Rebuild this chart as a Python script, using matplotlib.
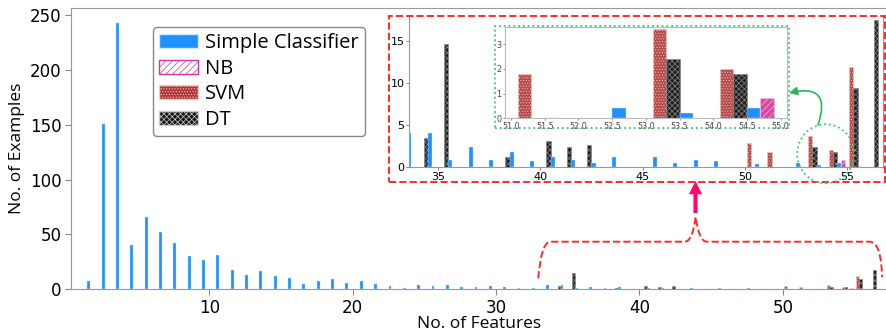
import numpy as np
import matplotlib
matplotlib.use("Agg")
import matplotlib.pyplot as plt
from matplotlib.patches import Rectangle, Ellipse, FancyArrowPatch, PathPatch, Patch
from matplotlib.path import Path

# ---------------- data ----------------
n_features = list(range(1, 57))
simple_vals = [8, 151, 243, 40, 66, 52, 42, 30, 27, 31,
               18, 13, 17, 12.5, 10, 5, 8, 9, 6, 8,
               5, 3, 1.5, 3.6, 3, 3.6, 2.4, 1.8, 3, 2.4,
               1.5, 1.5, 4, 4, 0.8, 2.3, 0.8, 1.7, 0.7, 1.1,
               0.8, 0.4, 1.2, 0, 1.1, 0.4, 0.8, 0.7, 0, 0.3,
               0, 0.4, 0.2, 0.4, 0, 0]
dt_x = [34, 35, 38, 40, 41, 42, 53, 54, 55, 56]
dt_vals = [3.4, 14.6, 1.2, 3.0, 2.4, 2.6, 2.4, 1.8, 9.4, 17.5]
svm_x = [50, 51, 53, 54, 55]
svm_vals = [2.8, 1.8, 3.6, 2.0, 11.8]
nb_x = [54]
nb_vals = [0.8]

series_labels = ["Simple Classifier", "NB", "SVM", "DT"]
main_yticks = [0, 50, 100, 150, 200, 250]
main_xticks = [10, 20, 30, 40, 50]
zoom_xticks = [35, 40, 45, 50, 55]
zoom_yticks = [0, 5, 10, 15]
inner_xticks = [51.0, 51.5, 52.0, 52.5, 53.0, 53.5, 54.0, 54.5, 55.0]
inner_yticks = [0, 1, 2, 3]

# ---------------- style ----------------
plt.rcParams['hatch.linewidth'] = 0.5
BLUE = '#1e90ff'
NB_C = '#d4349c'
SVM_C = '#ad3634'
DT_C = '#141414'
W = 0.2
LAB_FONT = ['Open Sans', 'DejaVu Sans']
SVM_H = '......'
DT_H = 'xxxxxx'
NB_H = '/////'

FW, FH = 887, 333
def fx(px):
    return px / FW
def fy(py):
    return (FH - py) / FH

fig = plt.figure(figsize=(FW / 100, FH / 100), dpi=100)


def draw_bars(ax):
    ax.bar(np.array(svm_x) + 0.2, svm_vals, W, color=SVM_C, edgecolor='#f2c9c9',
           hatch=SVM_H, linewidth=0.4, alpha=0.9)
    ax.bar(np.array(dt_x) + 0.4, dt_vals, W, color=DT_C, edgecolor='#8a8a8a',
           hatch=DT_H, linewidth=0.4, alpha=0.95)
    ax.bar(np.array(n_features) + 0.6, simple_vals, W, color=BLUE,
           edgecolor='#cfe6ff', linewidth=0.3)
    ax.bar(np.array(nb_x) + 0.8, nb_vals, W, color=NB_C, edgecolor='#f6c6e6',
           hatch=NB_H, linewidth=0.4, alpha=0.9)


# ---------------- main axes ----------------
ax = fig.add_axes([fx(71), fy(289.3), fx(887 - 71), (289.3 - 8) / FH])
draw_bars(ax)
ax.set_xlim(0.36, 57.26)
ax.set_ylim(0, 256.5)
ax.set_xticks(main_xticks)
ax.set_yticks(main_yticks)
ax.tick_params(labelsize=12, color='#888888', length=4, pad=3)
for s in ['left', 'bottom', 'top']:
    ax.spines[s].set_color('#999999')
ax.spines['right'].set_visible(False)
ax.set_xlabel('No. of Features', fontsize=12.5, family=LAB_FONT, labelpad=-1)
ax.set_ylabel('No. of Examples', fontsize=12.5, family=LAB_FONT, labelpad=3)

handles = [Patch(facecolor=BLUE, edgecolor='#cfe6ff', label=series_labels[0]),
           Patch(facecolor='white', edgecolor=NB_C, hatch=NB_H, label=series_labels[1]),
           Patch(facecolor=SVM_C, edgecolor='#f2c9c9', hatch=SVM_H, label=series_labels[2]),
           Patch(facecolor=DT_C, edgecolor='#cccccc', hatch=DT_H, label=series_labels[3])]
leg = ax.legend(handles=handles, loc='upper left', bbox_to_anchor=(fx(153), fy(27)),
                bbox_transform=fig.transFigure, borderaxespad=0, framealpha=1,
                prop={'family': LAB_FONT, 'size': 14.5}, labelspacing=0.28,
                handletextpad=0.35, borderpad=0.3, handlelength=1.95,
                edgecolor='#888888')

# brace under the zoomed region (main data coords)
verts = [(32.94, 10), (33.15, 43.4), (33.8, 43.4), (43.15, 43.4),
         (43.7, 43.4), (43.92, 66), (44.15, 43.4), (44.7, 43.4),
         (56.05, 43.4), (56.85, 43.4), (56.92, 11)]
codes = [Path.MOVETO, Path.CURVE3, Path.CURVE3, Path.LINETO,
         Path.CURVE3, Path.CURVE3, Path.CURVE3, Path.CURVE3,
         Path.LINETO, Path.CURVE3, Path.CURVE3]
ax.add_patch(PathPatch(Path(verts, codes), fill=False, edgecolor='#ff2a2a',
                       linestyle='--', linewidth=1.4, clip_on=False))

# ---------------- zoom inset ----------------
axz = fig.add_axes([fx(409.3), fy(166.7), fx(882.7 - 409.3), (166.7 - 17) / FH])
draw_bars(axz)
axz.set_xlim(33.6, 56.73)
axz.set_ylim(0, 17.8)
axz.set_xticks(zoom_xticks)
axz.set_yticks(zoom_yticks)
axz.tick_params(labelsize=8, length=2, pad=1.5, color='#888888')
axz.spines['top'].set_visible(False)
for s in ['left', 'bottom', 'right']:
    axz.spines[s].set_color('#999999')

# ---------------- inner inset ----------------
axi = fig.add_axes([fx(505), fy(118.3), fx(786.7 - 505), (118.3 - 26.7) / FH])
draw_bars(axi)
axi.set_xlim(50.91, 55.09)
axi.set_ylim(0, 3.7)
axi.set_xticks(inner_xticks)
axi.set_xticklabels([f"{v:.1f}" for v in inner_xticks])
axi.set_yticks(inner_yticks)
axi.tick_params(labelsize=5.8, length=1.5, pad=1, color='#999999', labelcolor='#444444')
for s in axi.spines.values():
    s.set_color('#bbbbbb')

# ---------------- annotations (figure coords) ----------------
fig.add_artist(Rectangle((fx(389), fy(181.7)), fx(885 - 389), (181.7 - 15.7) / FH,
                         transform=fig.transFigure, fill=False, edgecolor='#ff2a2a',
                         linestyle='--', linewidth=1.4, zorder=10))
fig.add_artist(Rectangle((fx(495), fy(128.3)), fx(789.3 - 495), (128.3 - 25.7) / FH,
                         transform=fig.transFigure, fill=False, edgecolor='#3cc46a',
                         linestyle=':', linewidth=1.3, zorder=10))
fig.add_artist(Ellipse((fx(825.7), fy(153.8)), fx(57), 59 / FH,
                       transform=fig.transFigure, fill=False, edgecolor='#3cc46a',
                       linestyle=':', linewidth=1.3, zorder=10))
fig.add_artist(FancyArrowPatch((fx(818), fy(125)), (fx(789), fy(93)),
                               transform=fig.transFigure,
                               connectionstyle='arc3,rad=0.9', arrowstyle='-|>',
                               mutation_scale=12, color='#2ab55a', linewidth=1.2,
                               shrinkA=0, shrinkB=0, zorder=11))
fig.add_artist(FancyArrowPatch((fx(695.5), fy(213)), (fx(695.5), fy(181)),
                               transform=fig.transFigure,
                               arrowstyle='simple,head_length=0.95,head_width=0.95,tail_width=0.3',
                               mutation_scale=10, color='#ff0a6c', linewidth=0,
                               shrinkA=0, shrinkB=0, zorder=11))

fig.savefig('out.png', dpi=100)
